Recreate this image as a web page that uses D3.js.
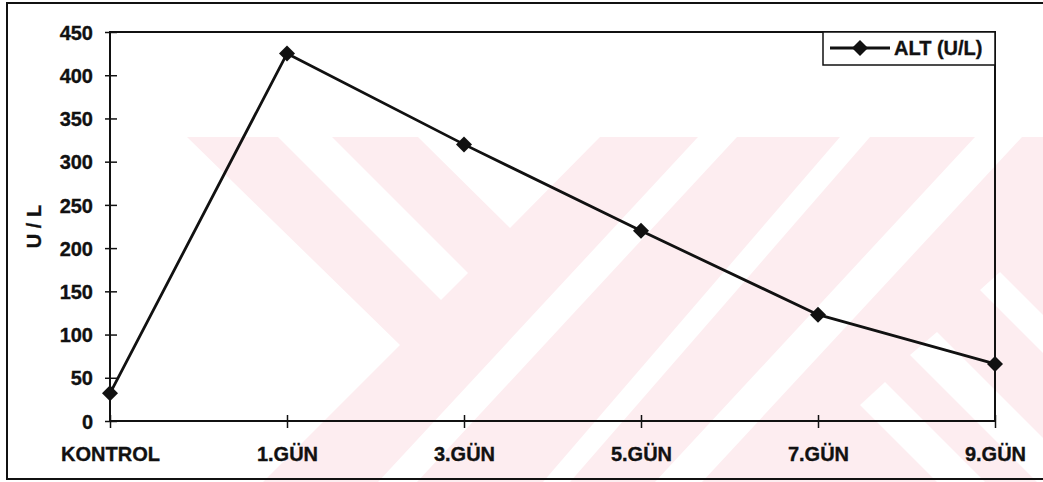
<!DOCTYPE html>
<html>
<head>
<meta charset="utf-8">
<script src="https://cdn.jsdelivr.net/npm/d3@7"></script>
<style>
  body { margin: 0; background: #fff; }
  svg { display: block; }
  text { font-family: "Liberation Sans", Arial, sans-serif; font-weight: bold; fill: #111; stroke: #111; stroke-width: 0.35px; }
</style>
</head>
<body>
<svg id="chart" width="1043" height="482"></svg>
<script>
// ALT activity (U/L) per sampling day
const categories = ["KONTROL", "1.GÜN", "3.GÜN", "5.GÜN", "7.GÜN", "9.GÜN"];
const altValues = [32, 425, 320, 220, 123, 66];
const yTicks = [0, 50, 100, 150, 200, 250, 300, 350, 400, 450];
const seriesName = "ALT (U/L)";
const yTitle = "U / L";

const svg = d3.select("#chart");
const plot = { left: 110, right: 995, top: 32, bottom: 421 };

const x = d3.scalePoint().domain(categories).range([plot.left, plot.right]);
const y = d3.scaleLinear().domain([0, 450]).range([plot.bottom, plot.top]);

// faint background emblem (chevron stripes)
const emblem = svg.append("g");
const pink = "#fdedf0";
const emblemBase = [[187,137],[1043,137],[1043,482],[263,482],[400,345]];
const emblemGaps = [
  [[278,137],[332,137],[468,273],[441,300]],
  [[418,137],[600,137],[510,228]],
  [[698,137],[737,137],[417,482],[378,482]],
  [[840,137],[870,137],[570,482],[543,482]],
  [[975,137],[1022,137],[702,482],[655,482]],
  [[980,290],[1000,272],[1043,315],[1043,353]],
  [[910,355],[937,332],[1043,438],[1043,488]],
  [[860,405],[885,382],[985,482],[937,482]]
];
emblem.append("polygon").attr("points", emblemBase.join(" ")).attr("fill", pink);
emblem.selectAll("polygon.gap").data(emblemGaps).join("polygon")
  .attr("class", "gap").attr("points", d => d.join(" ")).attr("fill", "#fff");

// outer chart frame
svg.append("rect")
  .attr("x", 7).attr("y", 3).attr("width", 1045).attr("height", 476)
  .attr("fill", "none").attr("stroke", "#111").attr("stroke-width", 2);

// plot area frame
svg.append("rect")
  .attr("x", plot.left).attr("y", plot.top)
  .attr("width", plot.right - plot.left).attr("height", plot.bottom - plot.top)
  .attr("fill", "none").attr("stroke", "#111").attr("stroke-width", 2);

// y axis
const yAxis = svg.append("g").attr("transform", `translate(${plot.left},0)`)
  .call(d3.axisLeft(y).tickValues(yTicks).tickSize(6));
yAxis.select(".domain").remove();
yAxis.selectAll(".tick line").attr("x1", -5).attr("x2", 7)
  .attr("stroke", "#111").attr("stroke-width", 1.5);
yAxis.selectAll(".tick text").attr("x", -17).attr("dy", "0.36em")
  .style("font-size", "20px").attr("fill", "#111");

// x axis
const xAxis = svg.append("g").attr("transform", `translate(0,${plot.bottom})`)
  .call(d3.axisBottom(x).tickSize(6));
xAxis.select(".domain").remove();
xAxis.selectAll(".tick line").attr("y1", -6).attr("y2", 7)
  .attr("stroke", "#111").attr("stroke-width", 1.5);
xAxis.selectAll(".tick text").attr("y", 40).attr("dy", "0")
  .style("font-size", "20px").attr("fill", "#111");

// y axis title
svg.append("text")
  .attr("transform", `translate(41,${(plot.top + plot.bottom) / 2}) rotate(-90)`)
  .attr("text-anchor", "middle")
  .style("font-size", "20px")
  .text(yTitle);

// series line
const line = d3.line().x((d, i) => x(categories[i])).y(d => y(d));
svg.append("path").datum(altValues)
  .attr("d", line).attr("fill", "none")
  .attr("stroke", "#111").attr("stroke-width", 2.8).attr("stroke-linejoin", "round");

const diamond = (cx, cy, r) => `M${cx},${cy - r}L${cx + r},${cy}L${cx},${cy + r}L${cx - r},${cy}Z`;
svg.selectAll("path.marker").data(altValues).join("path")
  .attr("class", "marker")
  .attr("d", (d, i) => diamond(x(categories[i]), y(d), 8))
  .attr("fill", "#111");

// legend
const lg = svg.append("g");
lg.append("rect").attr("x", 823).attr("y", plot.top).attr("width", plot.right - 823).attr("height", 33)
  .attr("fill", "#fff").attr("stroke", "#111").attr("stroke-width", 1.5);
lg.append("line").attr("x1", 830).attr("x2", 890).attr("y1", 48).attr("y2", 48)
  .attr("stroke", "#111").attr("stroke-width", 2.8);
lg.append("path").attr("d", diamond(860, 48, 8)).attr("fill", "#111");
lg.append("text").attr("x", 894).attr("y", 55).style("font-size", "20px").text(seriesName);
</script>
</body>
</html>
